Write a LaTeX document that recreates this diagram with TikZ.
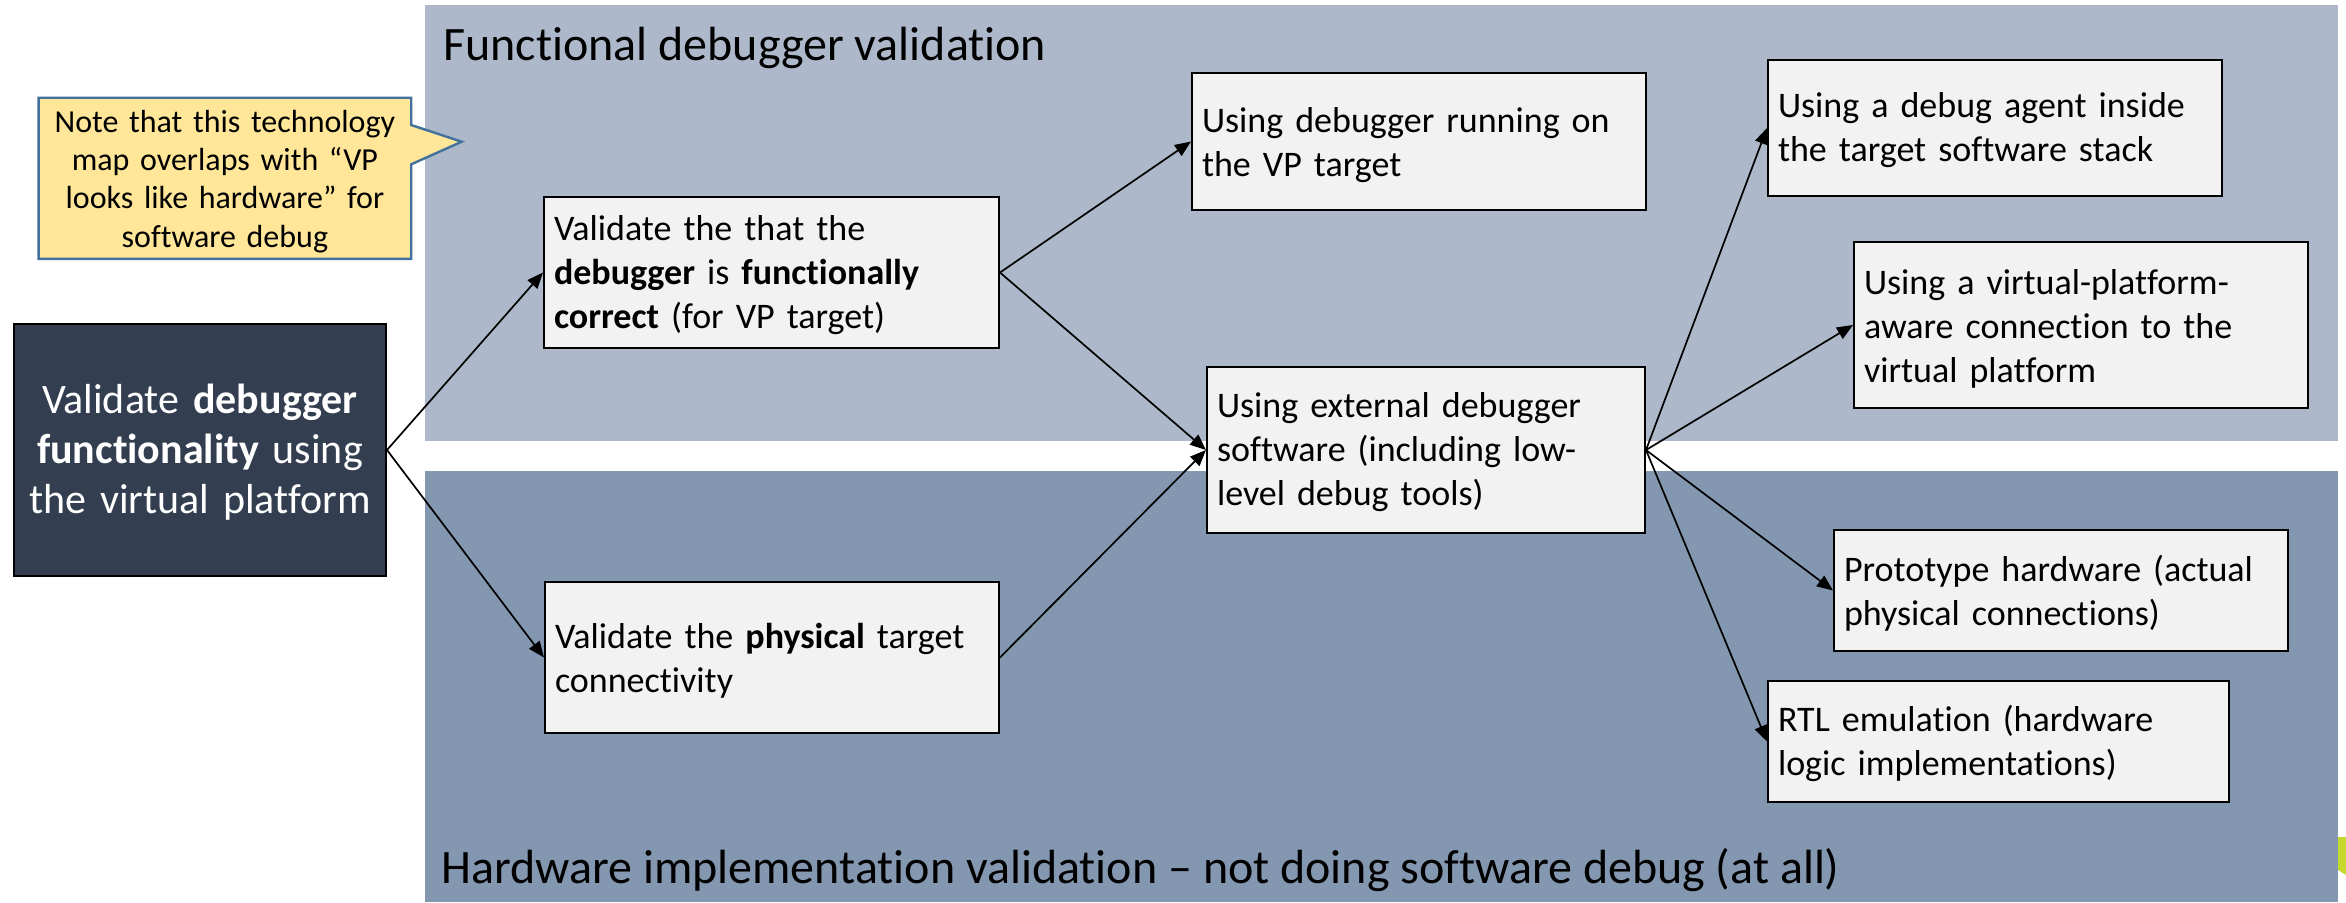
\documentclass[tikz,border=0pt]{standalone}
\usepackage{fontspec}
\setmainfont{Carlito}[Ligatures=NoCommon]
\usetikzlibrary{arrows.meta,backgrounds}

\definecolor{bandtop}{HTML}{ADB9CA}
\definecolor{bandbot}{HTML}{8497B0}
\definecolor{boxfill}{HTML}{F2F2F2}
\definecolor{navy}{HTML}{333F50}
\definecolor{notefill}{HTML}{FFE699}
\definecolor{noteline}{HTML}{41719C}
\definecolor{logogreen}{HTML}{C4D82E}

\tikzset{
  procbox/.style={draw=black, line width=1pt, fill=boxfill, anchor=north west,
    inner xsep=5pt, inner ysep=0pt, align=left,
    font=\fontsize{18}{22}\selectfont},
  goalbox/.style={draw=black, line width=1pt, fill=navy, text=white,
    anchor=north west, inner sep=0pt, align=center,
    font=\fontsize{21}{25}\selectfont},
  notebox/.style={anchor=north west, inner sep=0pt, align=center,
    font=\fontsize{16}{19.2}\selectfont},
  bandtitle/.style={anchor=base west, inner sep=0pt,
    font=\fontsize{24}{29}\selectfont},
  conn/.style={draw=black, line width=0.85pt,
    -{Triangle[length=8pt,width=6.5pt]}}
}

\begin{document}
\begin{tikzpicture}[x=0.5pt, y=-0.5pt]
\useasboundingbox (0,0) rectangle (2346,902);

% page, the two validation bands and the logo fragment at the edge
\begin{scope}[on background layer]
  \fill[white] (0,0) rectangle (2346,902);
  \fill[bandtop] (425,5) rectangle (2338,441);
  \fill[bandbot] (425,471) rectangle (2338,902);
  \fill[logogreen] (2338,837) -- (2346,837) -- (2346,875) -- (2338,870) -- cycle;
\end{scope}

% band headings
\node[bandtitle] (toptitle) at (443,60) {Functional debugger validation};
\node[bandtitle] (bottitle) at (441,883)
  {Hardware implementation validation – not doing software debug (at all)};

% note callout
\node[notebox, text width=185.9pt, text height=17pt, text depth=63.15pt]
  (note) at (38.6,97.7)
  {Note that this technology\\map overlaps with “VP\\looks like hardware” for\\software debug};
\begin{scope}[on background layer]
  \filldraw[fill=notefill, draw=noteline, line width=1.2pt, line join=miter]
    (note.north west) -- (note.north east) -- ++(0,27.3) -- ++(50.5,16.7)
    -- ++(-50.5,22.6) -- (note.south east) -- (note.south west) -- cycle;
\end{scope}

% root
\node[goalbox, text width=186pt, text height=44.5pt, text depth=81.5pt]
  (goal) at (13,323)
  {Validate \textbf{debugger}\\\textbf{functionality} using\\the virtual platform};

% first level
\node[procbox, text width=217.5pt, text height=21.5pt, text depth=54pt]
  (funcval) at (543,196)
  {Validate the that the\\\textbf{debugger} is \textbf{functionally}\\\textbf{correct} (for VP target)};
\node[procbox, text width=217pt, text height=33.25pt, text depth=42.25pt]
  (physval) at (544,581)
  {Validate the \textbf{physical} target\\connectivity};

% second level
\node[procbox, text width=217pt, text height=29.85pt, text depth=38.65pt]
  (ondbg) at (1191,72)
  {Using debugger running on\\the VP target};
\node[procbox, text width=209pt, text height=25.35pt, text depth=57.65pt]
  (extdbg) at (1206,366)
  {Using external debugger\\software (including low-\\level debug tools)};

% third level
\node[procbox, text width=217pt, text height=28.85pt, text depth=39.15pt]
  (agent) at (1767,59)
  {Using a debug agent inside\\the target software stack};
\node[procbox, text width=217pt, text height=26pt, text depth=57pt]
  (vpconn) at (1853,241)
  {Using a virtual-platform-\\aware connection to the\\virtual platform};
\node[procbox, text width=217pt, text height=25.5pt, text depth=35pt]
  (proto) at (1833,529)
  {Prototype hardware (actual\\physical connections)};
\node[procbox, text width=220.5pt, text height=25pt, text depth=35.5pt]
  (rtl) at (1767,680)
  {RTL emulation (hardware\\logic implementations)};

% connectors
\draw[conn] (goal.east) -- (funcval.west);
\draw[conn] (goal.east) -- (physval.west);
\draw[conn] (funcval.east) -- (ondbg.west);
\draw[conn] (funcval.east) -- (extdbg.west);
\draw[conn] (physval.east) -- (extdbg.west);
\draw[conn] (extdbg.east) -- (agent.west);
\draw[conn] (extdbg.east) -- (vpconn.west);
\draw[conn] (extdbg.east) -- (proto.west);
\draw[conn] (extdbg.east) -- (rtl.west);
\end{tikzpicture}
\end{document}
